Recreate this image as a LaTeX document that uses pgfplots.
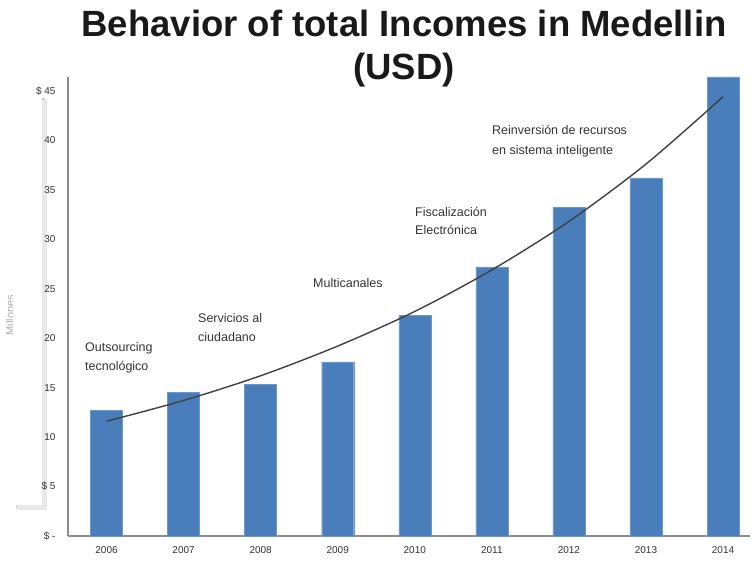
\documentclass[border=0pt]{standalone}
\usepackage{fontspec}
\setmainfont{Liberation Sans}
\usepackage{pgfplots}
\pgfplotsset{compat=1.18}
\definecolor{barblue}{HTML}{4A7EBB}
\begin{document}
\begin{tikzpicture}[x=1pt,y=1pt]
\useasboundingbox (0,0) rectangle (754,560);
% partially hidden axis label and white box
\node[rotate=90, text=gray!65, font=\fontsize{11}{13}\selectfont] at (10,245) {Millones};
\fill[black!20] (16,52) rectangle (45,462);
\fill[black!9] (17,50) rectangle (47,460);
\fill[white] (13,55) rectangle (42,465);
\begin{axis}[
  at={(68pt,24pt)}, anchor=south west,
  scale only axis, width=682pt, height=459pt,
  xmin=-0.5, xmax=8.35, ymin=0, ymax=46.4,
  axis x line*=bottom, axis y line*=left,
  axis line style={-, black!45, line width=1.2pt},
  major tick length=0pt,
  xtick={0,...,8},
  xticklabels={2006,2007,2008,2009,2010,2011,2012,2013,2014},
  ytick={0,5,...,45},
  yticklabels={\$ -,\$ 5,10,15,20,25,30,35,40,\$ 45},
  tick label style={font=\fontsize{10}{11}\selectfont, text=black!80},
  xticklabel style={yshift=-7pt},
  yticklabel style={xshift=-9pt},
  clip=false,
]
\addplot[ybar, bar width=32pt, fill=barblue, draw=barblue!80!white]
  coordinates {(0,12.7)(1,14.5)(2,15.3)(3,17.6)(4,22.3)(5,27.2)(6,33.2)(7,36.2)(8,46.4)};
\addplot[smooth, line width=1.4pt, color=black!75]
  coordinates {(0,11.6)(1,13.7)(2,16.2)(3,19.2)(4,22.7)(5,26.9)(6,31.8)(7,37.6)(8,44.4)};
\end{axis}
\begin{scope}[every node/.style={anchor=west, align=left, inner sep=0pt, text=black!80}]
\node[font=\fontsize{12.5}{19}\selectfont] at (85,202.5) {Outsourcing\\tecnológico};
\node[font=\fontsize{12.5}{19}\selectfont] at (198,232.5) {Servicios al\\ciudadano};
\node[font=\fontsize{12.5}{19}\selectfont] at (313,277) {Multicanales};
\node[font=\fontsize{12.5}{18}\selectfont] at (415,339) {Fiscalización\\Electrónica};
\node[font=\fontsize{12.5}{20}\selectfont] at (492,418.5) {Reinversión de recursos\\en sistema inteligente};
\end{scope}
\node[align=center, inner sep=0pt, font=\fontsize{36.5}{43}\selectfont\bfseries, text=black!90] at (404,511) {Behavior of total Incomes in Medellin\\(USD)};
\end{tikzpicture}
\end{document}
